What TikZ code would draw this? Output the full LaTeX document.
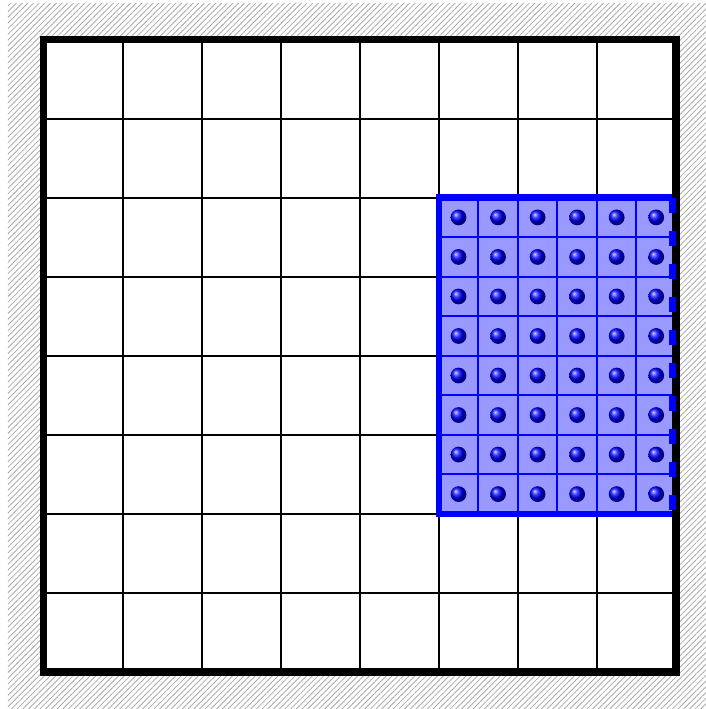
\documentclass[tikz,border=0pt]{standalone}
\usepackage{xcolor}
\usepackage{tikz}
\usetikzlibrary{patterns.meta}
\definecolor{cellfill}{RGB}{153,153,255}
\definecolor{hatchgray}{RGB}{170,170,170}

\begin{document}
\begin{tikzpicture}[x=1cm,y=1cm]
      \useasboundingbox (-0.55,-0.468) rectangle (8.38,8.5);
      \fill[pattern={Lines[angle=45,distance=1.45pt,line width=0.3pt]},pattern color=hatchgray] (-0.45,-0.468) rectangle (8.38,8.46);
      \fill[white] (0,0) rectangle (8,8);
      \draw[line width=0.7pt] (0,0) grid (8,8);
      % blue block
      \fill[cellfill] (5,2) rectangle (8,6);
      \draw[blue,line width=0.7pt,step=0.5] (5,2) grid (8,6);
      \draw[blue,line width=2.3pt] (8,6) -- (5,6) -- (5,2) -- (8,2);
      \draw[line width=2.7pt] (0,0) rectangle (8,8);
      \draw[blue,line width=2.5pt,dash pattern=on 0.19cm off 0.228cm] (7.96,6) -- (7.96,2);
      \foreach \i in {0,...,5}
        \foreach \j in {0,...,7}
          \shade[ball color=blue] (5.25+0.5*\i,2.25+0.5*\j) circle (0.1);
    \end{tikzpicture}
\end{document}
